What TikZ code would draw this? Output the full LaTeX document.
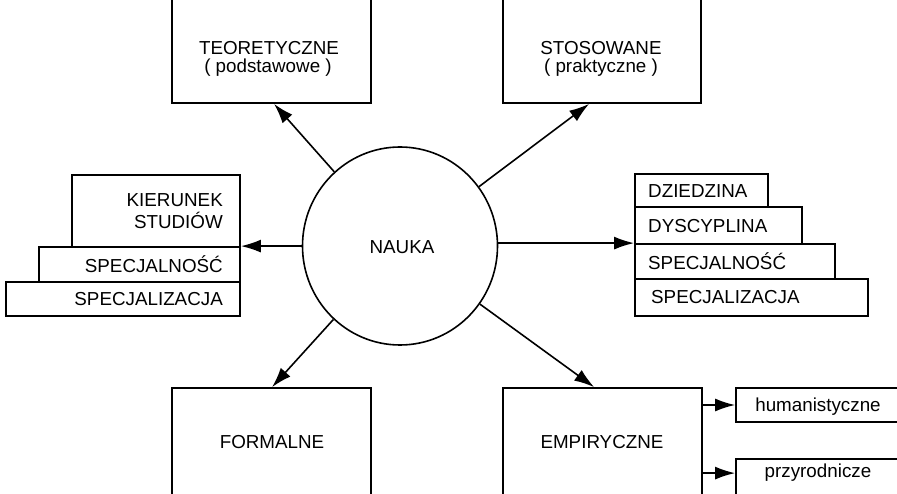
\documentclass[tikz,border=0pt]{standalone}
\usepackage{fontspec}
\setmainfont{Liberation Sans}
\usetikzlibrary{arrows.meta,shapes.geometric}
\begin{document}
\begin{tikzpicture}[x=1pt,y=-1pt,
  box/.style={draw,line width=1.8pt,rectangle,inner sep=0pt},
  lbl/.style={font=\fontsize{18.8}{22}\selectfont,inner sep=0pt},
  arr/.style={line width=1.6pt,-{Latex[length=20pt,width=13pt]}},
]
\useasboundingbox (0,0) rectangle (897,494);
\fill[white] (0,0) rectangle (897,494);
\clip (0,0) rectangle (897,494);

% central ellipse
\node[draw,ellipse,line width=1.6pt,minimum width=195pt,minimum height=198pt,inner sep=0pt] (nauka) at (400,246) {};
\node[lbl,anchor=base] (naukat) at (402,254) {NAUKA};

% top boxes
\node[box,minimum width=199pt,minimum height=123pt] (teo) at (271.5,41.5) {};
\node[lbl,anchor=base] (teo1) at (269,55) {TEORETYCZNE};
\node[lbl,anchor=base] (teo2) at (268,73) {( podstawowe )};
\node[box,minimum width=198pt,minimum height=123pt] (sto) at (602,41.5) {};
\node[lbl,anchor=base] (sto1) at (601,55) {STOSOWANE};
\node[lbl,anchor=base] (sto2) at (601,73) {( praktyczne )};

% bottom boxes
\node[box,minimum width=199pt,minimum height=132pt] (form) at (271.5,454) {};
\node[lbl,anchor=base] (formt) at (272,448) {FORMALNE};
\node[box,minimum width=199pt,minimum height=132pt] (emp) at (602.5,454) {};
\node[lbl,anchor=base] (empt) at (602,448) {EMPIRYCZNE};
\node[box,minimum width=184pt,minimum height=34pt] (hum) at (828,405) {};
\node[lbl,anchor=base] (humt) at (818,411) {humanistyczne};
\node[box,minimum width=184pt,minimum height=61pt] (przy) at (828,489.5) {};
\node[lbl,anchor=base] (przyt) at (818,477) {przyrodnicze};

% left stack
\node[box,minimum width=168pt,minimum height=72pt] (kier) at (156,211) {};
\node[box,minimum width=201pt,minimum height=35pt] (lspec) at (139.5,264.5) {};
\node[box,minimum width=234pt,minimum height=34pt] (lspz) at (123,299) {};
\node[lbl,anchor=base east] (kier1) at (223,207) {KIERUNEK};
\node[lbl,anchor=base east] (kier2) at (223,229) {STUDIÓW};
\node[lbl,anchor=base east] (lspect) at (223,273) {SPECJALNOŚĆ};
\node[lbl,anchor=base east] (lspzt) at (223,306) {SPECJALIZACJA};

% right stack
\node[box,minimum width=133pt,minimum height=33pt] (dz) at (701.5,190.5) {};
\node[box,minimum width=167pt,minimum height=37pt] (dys) at (718.5,225.5) {};
\node[box,minimum width=200pt,minimum height=35pt] (rspec) at (735,261.5) {};
\node[box,minimum width=233pt,minimum height=37pt] (rspz) at (751.5,297.5) {};
\node[lbl,anchor=base west] (dzt) at (648,198) {DZIEDZINA};
\node[lbl,anchor=base west] (dyst) at (648,233) {DYSCYPLINA};
\node[lbl,anchor=base west] (rspect) at (648,270) {SPECJALNOŚĆ};
\node[lbl,anchor=base west] (rspzt) at (651,304) {SPECJALIZACJA};

% connectors
\draw[arr] (nauka) -- ([xshift=103pt]teo.south west);
\draw[arr] (nauka) -- ([xshift=87pt]sto.south west);
\draw[arr] (nauka) -- ([xshift=101pt]form.north west);
\draw[arr] (nauka) -- ([xshift=92pt]emp.north west);
\draw[arr] (nauka.west |- lspec.north east) -- (lspec.north east);
\draw[arr] (nauka.east |- rspec.north west) -- (rspec.north west);
\draw[arr] (emp.east |- hum.west) -- (hum.west);
\draw[arr] ([yshift=-15pt]emp.east |- przy.north west) -- ([yshift=-15pt]przy.north west);
\end{tikzpicture}
\end{document}
